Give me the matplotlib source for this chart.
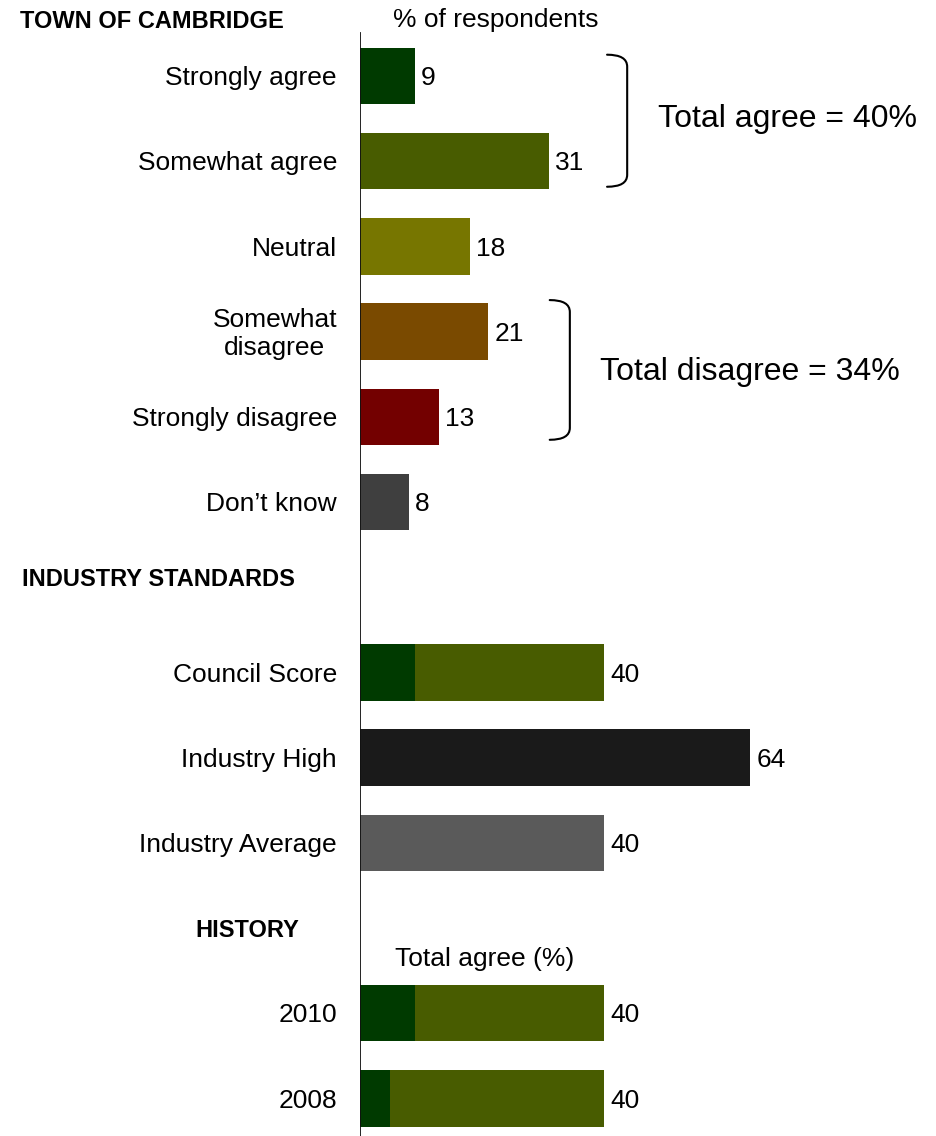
import matplotlib
matplotlib.use("Agg")
import matplotlib.pyplot as plt
from matplotlib.path import Path
from matplotlib.patches import PathPatch

plt.rcParams["font.family"] = ["Liberation Sans", "DejaVu Sans"]

# data
town_labels = ["Strongly agree", "Somewhat agree", "Neutral", "Somewhat\ndisagree",
               "Strongly disagree", "Don\u2019t know"]
town_values = [9, 31, 18, 21, 13, 8]
town_colors = ["#003a00", "#485c00", "#777600", "#7a4a00", "#730000", "#3f3f3f"]

industry_labels = ["Council Score", "Industry High", "Industry Average"]
industry_values = [40, 64, 40]
council_strong = 9
council_somewhat = 31
industry_colors = ["#1a1a1a", "#5a5a5a"]

history_labels = ["2010", "2008"]
history_strong = [9, 5]
history_somewhat = [31, 35]

total_agree = 40
total_disagree = 34

DARK_GREEN = "#003a00"
OLIVE = "#485c00"

W, H = 937, 1136
PX_PER_UNIT = 6.1
ROW_PX = 85.2
ROW0_PX = 76
AX_LEFT_PX = 360

fig = plt.figure(figsize=(W / 100, H / 100), dpi=100)
ax = fig.add_axes([AX_LEFT_PX / W, 0, 1 - AX_LEFT_PX / W, 1])
ax.set_xlim(0, (W - AX_LEFT_PX) / PX_PER_UNIT)
ax.set_ylim((H - ROW0_PX) / ROW_PX, -ROW0_PX / ROW_PX)
ax.axis("off")

BAR_H = 0.66
FS = 19
label_x = -23 / PX_PER_UNIT
value_pad = 1.0
dy = 0.025  # small nudge so text sits like the reference

# town rows
town_rows = list(range(len(town_values)))
ax.barh(town_rows, town_values, height=BAR_H, color=town_colors, linewidth=0)
for r, lab, v in zip(town_rows, town_labels, town_values):
    ax.text(label_x, r + dy, lab, ha="right", va="center", multialignment="center", fontsize=FS)
    ax.text(v + value_pad, r + dy, str(v), ha="left", va="center", fontsize=FS)

# industry rows
ind_rows = [7, 8, 9]
ax.barh(ind_rows[0], council_strong, height=BAR_H, color=DARK_GREEN, linewidth=0)
ax.barh(ind_rows[0], council_somewhat, left=council_strong, height=BAR_H, color=OLIVE, linewidth=0)
ax.barh(ind_rows[1:], industry_values[1:], height=BAR_H, color=industry_colors, linewidth=0)
for r, lab, v in zip(ind_rows, industry_labels, industry_values):
    ax.text(label_x, r + dy, lab, ha="right", va="center", fontsize=FS)
    ax.text(v + value_pad, r + dy, str(v), ha="left", va="center", fontsize=FS)

# history rows
hist_rows = [11, 12]
ax.barh(hist_rows, history_strong, height=BAR_H, color=DARK_GREEN, linewidth=0)
ax.barh(hist_rows, history_somewhat, left=history_strong, height=BAR_H, color=OLIVE, linewidth=0)
for r, lab, s, m in zip(hist_rows, history_labels, history_strong, history_somewhat):
    ax.text(label_x, r + dy, lab, ha="right", va="center", fontsize=FS)
    ax.text(s + m + value_pad, r + dy, str(s + m), ha="left", va="center", fontsize=FS)

# axis line
ax.axvline(0, ymin=0, ymax=1 - 33 / H, color="#111111", linewidth=1.3)

# headers
ax.text(-55.7, -0.64, "TOWN OF CAMBRIDGE", ha="left", va="center", fontsize=17, fontweight="bold")
ax.text(-55.4, 5.91, "INDUSTRY STANDARDS", ha="left", va="center", fontsize=17, fontweight="bold")
ax.text(-18.4, 10.03, "HISTORY", ha="center", va="center", fontsize=17, fontweight="bold")
ax.text(22.3, -0.66, "% of respondents", ha="center", va="center", fontsize=FS)
ax.text(20.5, 10.36, "Total agree (%)", ha="center", va="center", fontsize=FS)


def brace(x0, x1, y0, y1):
    ry = 0.14
    verts = [(x0, y0), (x1, y0), (x1, y0 + ry),
             (x1, y1 - ry),
             (x1, y1), (x0, y1)]
    codes = [Path.MOVETO, Path.CURVE3, Path.CURVE3, Path.LINETO, Path.CURVE3, Path.CURVE3]
    ax.add_patch(PathPatch(Path(verts, codes), fill=False, lw=1.5, color="black",
                           capstyle="round", clip_on=False))


brace(40.5, 43.8, -0.25, 1.30)
ax.text(48.9, 0.51, f"Total agree = {total_agree}%", ha="left", va="center", fontsize=23)

brace(31.1, 34.4, 2.63, 4.27)
ax.text(39.3, 3.47, f"Total disagree = {total_disagree}%", ha="left", va="center", fontsize=23)

fig.savefig("out.png", dpi=100)
